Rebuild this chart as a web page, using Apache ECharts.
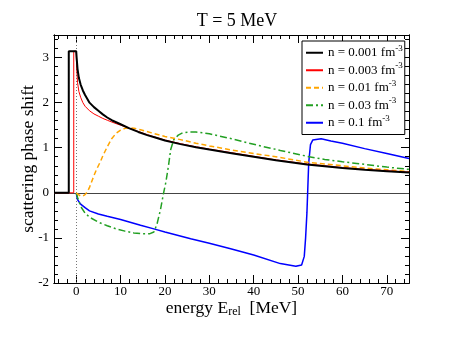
<!DOCTYPE html>
<html>
<head>
<meta charset="utf-8">
<script src="https://cdn.jsdelivr.net/npm/echarts@6/dist/echarts.min.js"></script>
<style>
  html, body { margin: 0; padding: 0; background: #fff; }
  #main { width: 460px; height: 355px; }
</style>
</head>
<body>
<div id="main"></div>
<script>
// ---------- data
const densities = ["0.001", "0.003", "0.01", "0.03", "0.1"];

const energy001 = [-5, -1.67, -1.67, 0, 0.1, 0.3, 0.6, 1, 1.5, 2, 3, 4, 5, 6, 7, 8, 10, 12, 14, 16, 18, 20, 23.5, 27, 30, 35, 40, 45, 52, 56, 60, 65, 70, 75];
const phase001 = [0, 0, 3.1416, 3.1416, 3.0, 2.75, 2.55, 2.4, 2.27, 2.17, 2.0, 1.9, 1.82, 1.74, 1.67, 1.61, 1.52, 1.43, 1.35, 1.28, 1.22, 1.16, 1.08, 1.01, 0.96, 0.88, 0.8, 0.72, 0.63, 0.59, 0.55, 0.51, 0.48, 0.45];

const energy003 = [-5, -0.55, -0.55, 0, 0.1, 0.3, 0.6, 1, 1.5, 2, 3, 4, 5, 6, 7, 8, 10, 12, 14, 16, 18, 20, 23.5, 27, 30, 35, 40, 45, 52, 56, 60, 65, 70, 75];
const phase003 = [0, 0, 3.1416, 3.1416, 2.8, 2.45, 2.25, 2.12, 2.0, 1.92, 1.82, 1.75, 1.7, 1.65, 1.61, 1.57, 1.5, 1.43, 1.36, 1.29, 1.23, 1.17, 1.09, 1.02, 0.97, 0.89, 0.81, 0.73, 0.64, 0.6, 0.56, 0.52, 0.49, 0.46];

const energy01 = [0, 0.5, 1, 1.5, 2, 2.5, 3, 3.5, 4, 4.5, 5, 5.5, 6, 7, 8, 9, 10, 11, 12, 13, 14.5, 17, 20, 23.5, 27, 30, 35, 40, 45, 52, 56, 60, 65, 70, 75];
const phase01 = [0, -0.04, -0.07, -0.07, -0.04, 0.02, 0.12, 0.25, 0.38, 0.5, 0.6, 0.7, 0.82, 1.02, 1.2, 1.32, 1.39, 1.43, 1.44, 1.43, 1.4, 1.33, 1.25, 1.18, 1.1, 1.04, 0.95, 0.87, 0.8, 0.68, 0.64, 0.6, 0.55, 0.51, 0.47];

const energy03 = [0, 0.3, 1, 2, 3, 5, 7, 9, 11, 13, 15, 16.5, 17.5, 18.2, 19, 19.7, 20.2, 20.8, 21.3, 22, 23, 24, 25.5, 27, 30, 35, 38.6, 42, 46, 52, 56, 60, 65, 70, 75];
const phase03 = [0, -0.1, -0.3, -0.45, -0.54, -0.65, -0.73, -0.8, -0.85, -0.89, -0.91, -0.91, -0.87, -0.7, -0.37, 0, 0.23, 0.6, 0.96, 1.18, 1.28, 1.33, 1.35, 1.35, 1.31, 1.2, 1.11, 1.03, 0.94, 0.81, 0.74, 0.69, 0.63, 0.57, 0.52];

const energy1 = [0, 0.3, 1, 2, 3, 5, 7, 10, 14.5, 17.5, 20, 25.8, 30, 34.8, 40, 46, 49.5, 50.8, 51.4, 51.7, 52, 52.4, 52.8, 53.3, 55.2, 57.4, 60, 65, 70, 75];
const phase1 = [0, -0.15, -0.25, -0.33, -0.4, -0.47, -0.52, -0.59, -0.72, -0.8, -0.87, -1.02, -1.12, -1.24, -1.38, -1.57, -1.63, -1.6, -1.41, -1.0, -0.44, 0.67, 1.07, 1.17, 1.2, 1.15, 1.1, 0.98, 0.87, 0.76];

// tick labels
const xTicks = [0, 10, 20, 30, 40, 50, 60, 70];
const yTicks = [-2, -1, 0, 1, 2, 3];

// ---------- helpers
const pairs = (xs, ys) => xs.map((x, i) => [x, ys[i]]);
const minorTicks = (from, to, step, majors) => {
  let arr = [];
  for (let v = from; v <= to + 1e-9; v += step) {
    let r = Math.round(v * 10) / 10;
    if (majors.indexOf(r) === -1) arr.push(r);
  }
  return arr;
};
const xMinor = minorTicks(-4, 74, 2, xTicks);
const yMinor = minorTicks(-1.8, 3.4, 0.2, yTicks);

const FONT = "Liberation Serif";
const names = densities.map((d) => "n = " + d + " fm-3");

// -------- axes (main + minor-tick copies, mirrored on top/right)
function xAx(pos, ticks, len, labels) {
  return {
    type: "value", position: pos, min: -5, max: 75,
    axisLine: { show: true, onZero: false, lineStyle: { color: "#000", width: 1 } },
    splitLine: { show: false },
    axisTick: { show: true, inside: true, length: len, customValues: ticks, lineStyle: { color: "#000" } },
    axisLabel: labels
      ? { show: true, customValues: ticks, fontFamily: FONT, fontSize: 13, color: "#000", margin: 2 }
      : { show: false },
  };
}
function yAx(pos, ticks, len, labels) {
  return {
    type: "value", position: pos, min: -2, max: 3.5,
    axisLine: { show: true, onZero: false, lineStyle: { color: "#000", width: 1 } },
    splitLine: { show: false },
    axisTick: { show: true, inside: true, length: len, customValues: ticks, lineStyle: { color: "#000" } },
    axisLabel: labels
      ? { show: true, customValues: ticks, fontFamily: FONT, fontSize: 13, color: "#000", margin: 5 }
      : { show: false },
  };
}

let xAxes = [
  xAx("bottom", xTicks, 8, true),
  xAx("bottom", xMinor, 4, false),
  xAx("top", xTicks, 8, false),
  xAx("top", xMinor, 4, false),
];
xAxes[0].name = "energy E{sub|rel}  [MeV]";
xAxes[0].nameLocation = "middle";
xAxes[0].nameGap = 15;
xAxes[0].nameMoveOverlap = false;
xAxes[0].nameTextStyle = {
  fontFamily: FONT, fontSize: 17.5, color: "#000", lineHeight: 20,
  rich: { sub: { fontFamily: FONT, fontSize: 12, lineHeight: 12, verticalAlign: "bottom" } },
};

let yAxes = [
  yAx("left", yTicks, 8, true),
  yAx("left", yMinor, 4, false),
  yAx("right", yTicks, 8, false),
  yAx("right", yMinor, 4, false),
];
yAxes[0].name = "scattering phase shift";
yAxes[0].nameLocation = "middle";
yAxes[0].nameGap = 17;
yAxes[0].nameMoveOverlap = false;
yAxes[0].nameTextStyle = { fontFamily: FONT, fontSize: 17.5, color: "#000" };

// -------- series
const colors = ["#000000", "#ff0000", "#ffa500", "#23a023", "#0000ff"];
const widths = [2, 1, 1.5, 1.5, 1.5];
const types = ["solid", "solid", [5, 3], [7, 3, 2, 3], "solid"];
const dataSets = [
  pairs(energy001, phase001),
  pairs(energy003, phase003),
  pairs(energy01, phase01),
  pairs(energy03, phase03),
  pairs(energy1, phase1),
];

let series = dataSets.map((d, i) => ({
  name: names[i],
  type: "line",
  data: d,
  showSymbol: false,
  symbol: "none",
  clip: true,
  z: 10 - i,
  lineStyle: { color: colors[i], width: widths[i], type: types[i] },
  itemStyle: { color: colors[i] },
}));

// zero line and the dotted line at E = 0
series.push({
  type: "line",
  data: [],
  silent: true,
  markLine: {
    silent: true,
    symbol: "none",
    label: { show: false },
    data: [
      { yAxis: 0, lineStyle: { color: "#444", width: 1, type: "solid" } },
      { xAxis: 0, lineStyle: { color: "#777", width: 1, type: [1, 2] } },
    ],
  },
});

var myChart = echarts.init(document.getElementById("main"));
myChart.setOption({
  animation: false,
  backgroundColor: "#fff",
  title: {
    text: "T = 5 MeV",
    left: 232,
    textAlign: "center",
    top: 7,
    textStyle: { fontFamily: FONT, fontSize: 18, fontWeight: "normal", color: "#000" },
  },
  grid: { left: 54, right: 51, top: 35, bottom: 72, containLabel: false },
  legend: {
    orient: "vertical",
    left: 302,
    top: 41,
    padding: [3, 2, 3, 3],
    itemGap: 0,
    itemWidth: 17,
    itemHeight: 10,
    backgroundColor: "#fff",
    borderColor: "#000",
    borderWidth: 1,
    borderRadius: 0,
    itemStyle: { opacity: 0 },
    data: names,
    formatter: (name) => name.replace("fm-3", "fm{sup|-3}"),
    textStyle: {
      fontFamily: FONT, fontSize: 13, color: "#000", lineHeight: 17.5,
      rich: { sup: { fontFamily: FONT, fontSize: 9, lineHeight: 9, verticalAlign: "top" } },
    },
  },
  xAxis: xAxes,
  yAxis: yAxes,
  series: series,
});
</script>
</body>
</html>
